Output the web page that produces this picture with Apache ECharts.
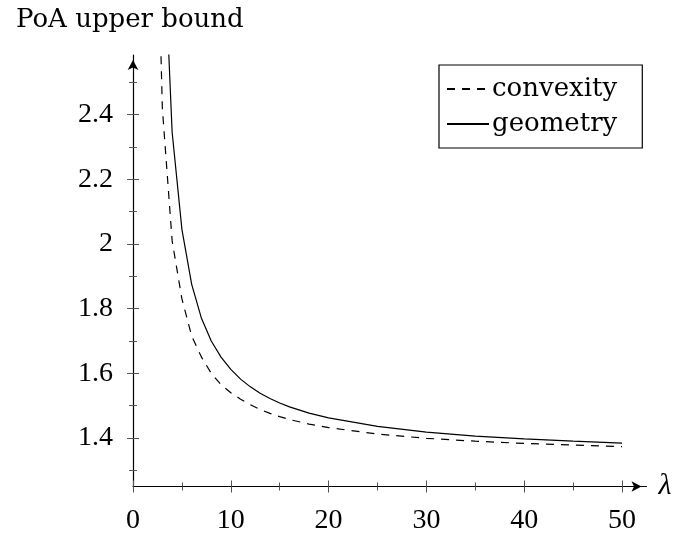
<!DOCTYPE html>
<html>
<head>
<meta charset="utf-8">
<script src="https://cdn.jsdelivr.net/npm/echarts@6/dist/echarts.min.js"></script>
<style>html,body{margin:0;padding:0;background:#fff;}#c{width:682px;height:537px;}</style>
</head>
<body>
<div id="c"></div>
<script>
// Data
const lambdaValues = [2,3,4,5,6,7,8,9,10,11,12,13,14,15,16,18,20,25,30,35,40,45,50];
const convexity = [3.60,2.42,2.01,1.83,1.715,1.65,1.60,1.565,1.54,1.52,1.503,1.488,1.476,1.466,1.457,1.443,1.432,1.412,1.399,1.390,1.383,1.378,1.373];
const geometry  = [6.90,3.05,2.346,2.045,1.875,1.77,1.70,1.65,1.612,1.582,1.558,1.538,1.522,1.508,1.496,1.477,1.462,1.436,1.418,1.406,1.397,1.390,1.384];
const xMajorTicks = [0,10,20,30,40,50];
const xMinorTicks = [5,15,25,35,45];
const yMajorTicks = [1.4,1.6,1.8,2.0,2.2,2.4];
const yMinorTicks = [1.3,1.5,1.7,1.9,2.1,2.3,2.5];
const seriesNames = ['convexity','geometry'];
const yTitle = 'PoA upper bound';
const xTitle = 'λ';

const numFont = "'Liberation Serif', 'Times New Roman', serif";
const textFont = "'DejaVu Serif', serif";
const X_MIN = 0, X_MAX = 52.5, Y_MIN = 1.25, Y_MAX = 2.584;

function tickAxis(kind, values, inside, len, main) {
  const ax = {
    type: 'value', min: kind === 'x' ? X_MIN : Y_MIN, max: kind === 'x' ? X_MAX : Y_MAX,
    position: kind === 'x' ? 'bottom' : 'left', offset: 0,
    splitLine: {show: false},
    axisLine: {show: false},
    axisTick: {show: true, inside: inside, length: len, customValues: values,
               lineStyle: {color: '#555', width: 1}},
    axisLabel: {show: false},
    silent: true
  };
  if (main) {
    ax.axisLine = {show: true, onZero: false, lineStyle: {color: '#000', width: 1.2},
                   symbol: ['none','arrow'], symbolSize: [8, 10], symbolOffset: [0, -5]};
    ax.axisLabel = {show: true, customValues: kind === 'x' ? xMajorTicks : yMajorTicks,
                    fontFamily: numFont, fontSize: 28, color: '#000',
                    margin: 20,
                    formatter: v => String(Math.round(v*10)/10)};
    if (kind === 'x') {
      ax.name = xTitle; ax.nameLocation = 'end'; ax.nameGap = 12;
      ax.nameTextStyle = {fontFamily: numFont, fontStyle: 'italic', fontSize: 30, color: '#000', verticalAlign: 'middle'};
    }
  }
  return ax;
}

const chart = echarts.init(document.getElementById('c'), null, {renderer: 'canvas'});
chart.setOption({
  animation: false,
  backgroundColor: '#fff',
  title: {text: yTitle, left: 11, top: 2,
          textStyle: {fontFamily: textFont, fontWeight: 'normal', fontSize: 26, color: '#000'}},
  grid: {left: 133, right: 682 - 646.5, top: 55, bottom: 537 - 486.5, containLabel: false},
  legend: {
    orient: 'vertical', left: 439, top: 65,
    data: seriesNames,
    borderColor: '#000', borderWidth: 1.2,
    padding: [11, 25, 11, 7], itemGap: 9,
    itemWidth: 42, itemHeight: 14,
    itemStyle: {opacity: 0},
    textStyle: {fontFamily: textFont, fontSize: 26, color: '#000', padding: [0,0,0,-2]}
  },
  xAxis: [
    tickAxis('x', xMajorTicks, false, 6, true),
    tickAxis('x', xMajorTicks, true, 6, false),
    tickAxis('x', xMinorTicks, false, 4, false),
    tickAxis('x', xMinorTicks, true, 4, false)
  ],
  yAxis: [
    tickAxis('y', yMajorTicks, false, 6, true),
    tickAxis('y', yMajorTicks, true, 6, false),
    tickAxis('y', yMinorTicks, false, 4, false),
    tickAxis('y', yMinorTicks, true, 4, false)
  ],
  series: [
    {name: seriesNames[0], type: 'line', symbol: 'none', clip: true,
     data: lambdaValues.map((x, i) => [x, convexity[i]]),
     lineStyle: {color: '#000', width: 1.2, type: [8, 7]}, itemStyle: {color: '#000'}},
    {name: seriesNames[1], type: 'line', symbol: 'none', clip: true,
     data: lambdaValues.map((x, i) => [x, geometry[i]]),
     lineStyle: {color: '#000', width: 1.2, type: 'solid'}, itemStyle: {color: '#000'}}
  ]
});
</script>
</body>
</html>
